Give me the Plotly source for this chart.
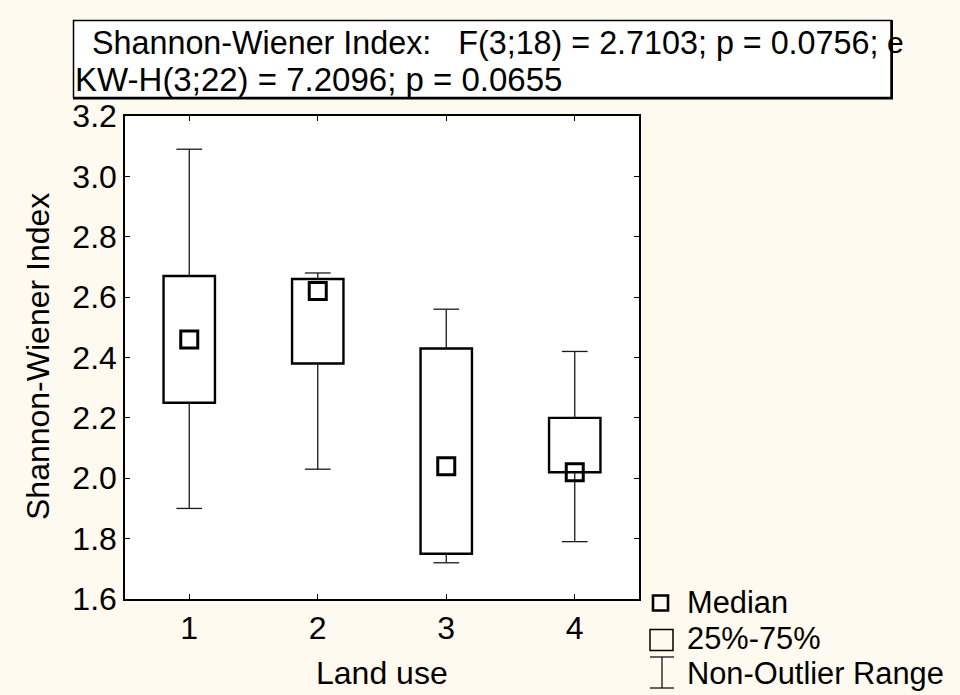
import plotly.graph_objects as go

# Box-plot summary per land-use class
land_use = [1, 2, 3, 4]
median = [2.46, 2.62, 2.04, 2.02]
q1 = [2.25, 2.38, 1.75, 2.02]
q3 = [2.67, 2.66, 2.43, 2.20]
whisker_low = [1.90, 2.03, 1.72, 1.79]
whisker_high = [3.09, 2.68, 2.56, 2.42]

title_line1 = "Shannon-Wiener Index:   F(3;18) = 2.7103; p = 0.0756;"
title_line2 = "KW-H(3;22) = 7.2096; p = 0.0655"
x_title = "Land use"
y_title = "Shannon-Wiener Index"
legend_labels = ["Median", "25%-75%", "Non-Outlier Range"]

W, H = 960, 695
ML, MR, MT, MB = 125, 321, 116, 96
PW, PH = W - ML - MR, H - MT - MB
FONT = "Liberation Sans, Arial, Helvetica, sans-serif"
BG = "#FFFAF0"


def px(x):
    return (x - ML) / PW


def py(y):
    return (H - MB - y) / PH


CAP = 0.1  # half-width of whisker caps (x units)

# whisker stems and caps as polyline segments
wx, wy = [], []
for x, lo, hi, a, b in zip(land_use, whisker_low, whisker_high, q1, q3):
    wx += [x, x, None, x - CAP, x + CAP, None]
    wy += [b, hi, None, hi, hi, None]
    wx += [x, x, None, x - CAP, x + CAP, None]
    wy += [a, lo, None, lo, lo, None]

fig = go.Figure()

fig.add_trace(go.Bar(
    x=land_use,
    y=[b - a for a, b in zip(q1, q3)],
    base=q1,
    width=0.4,
    marker=dict(color="white", line=dict(color="black", width=2.4)),
    hoverinfo="skip",
))

fig.add_trace(go.Scatter(
    x=wx, y=wy, mode="lines",
    line=dict(color="#1a1a1a", width=1.3),
    hoverinfo="skip",
))

fig.add_trace(go.Scatter(
    x=land_use, y=median, mode="markers",
    marker=dict(symbol="square-open", size=17, color="black",
                line=dict(color="black", width=3)),
    hoverinfo="skip",
))

shapes = [
    # title frame with a slight drop edge
    dict(type="rect", xref="paper", yref="paper",
         x0=px(73), x1=px(893), y0=py(99.5), y1=py(20),
         fillcolor="black", line=dict(width=0), layer="above"),
    dict(type="rect", xref="paper", yref="paper",
         x0=px(73.5), x1=px(891), y0=py(97.5), y1=py(20.5),
         fillcolor="white", line=dict(color="black", width=1.5), layer="above"),
    # legend glyphs
    dict(type="rect", xref="paper", yref="paper",
         x0=px(653), x1=px(668), y0=py(610.5), y1=py(595.5),
         fillcolor="rgba(0,0,0,0)", line=dict(color="black", width=2.6)),
    dict(type="rect", xref="paper", yref="paper",
         x0=px(650), x1=px(673), y0=py(650.5), y1=py(629.5),
         fillcolor="rgba(0,0,0,0)", line=dict(color="black", width=1.5)),
    dict(type="line", xref="paper", yref="paper",
         x0=px(662), x1=px(662), y0=py(688), y1=py(657),
         line=dict(color="black", width=1.2)),
    dict(type="line", xref="paper", yref="paper",
         x0=px(650), x1=px(674), y0=py(657), y1=py(657),
         line=dict(color="black", width=1.2)),
    dict(type="line", xref="paper", yref="paper",
         x0=px(650), x1=px(674), y0=py(688), y1=py(688),
         line=dict(color="black", width=1.2)),
]

annotations = [
    dict(text=title_line1, x=px(90), y=py(43), xanchor="left", yanchor="middle",
         font=dict(size=32.3)),
    dict(text="e", x=px(885), y=py(43), xanchor="left", yanchor="middle",
         font=dict(size=30)),
    dict(text=title_line2, x=px(73), y=py(79), xanchor="left", yanchor="middle",
         font=dict(size=33)),
    dict(text=x_title, x=px(382), y=py(673), xanchor="center", yanchor="middle",
         font=dict(size=32)),
    dict(text=y_title, x=px(38), y=py(357), xanchor="center", yanchor="middle",
         textangle=-90, font=dict(size=32)),
]
for label, yc in zip(legend_labels, [602, 638.5, 673.5]):
    annotations.append(dict(text=label, x=px(686), y=py(yc), xanchor="left",
                            yanchor="middle", borderpad=0, font=dict(size=30.8)))
for a in annotations:
    a.update(xref="paper", yref="paper", showarrow=False)
    a["font"].update(family=FONT, color="black")

axis_common = dict(
    showgrid=False, zeroline=False,
    showline=True, linecolor="black", linewidth=1.5, mirror="ticks",
    ticks="inside", ticklen=5, tickwidth=1, tickcolor="black",
    tickfont=dict(family=FONT, size=32, color="black"),
)

fig.update_layout(
    width=W, height=H,
    margin=dict(l=ML, r=MR, t=MT, b=MB, pad=0),
    paper_bgcolor=BG, plot_bgcolor="white",
    showlegend=False,
    font=dict(family=FONT, color="black"),
    xaxis=dict(range=[0.5, 4.5], tickvals=land_use, ticktext=[str(v) for v in land_use],
               ticklabelstandoff=0, **axis_common),
    yaxis=dict(range=[1.6, 3.2], tick0=1.6, dtick=0.2, tickformat=".1f",
               ticklabelstandoff=0, **axis_common),
    shapes=shapes,
    annotations=annotations,
)

fig.write_html("out.html")
